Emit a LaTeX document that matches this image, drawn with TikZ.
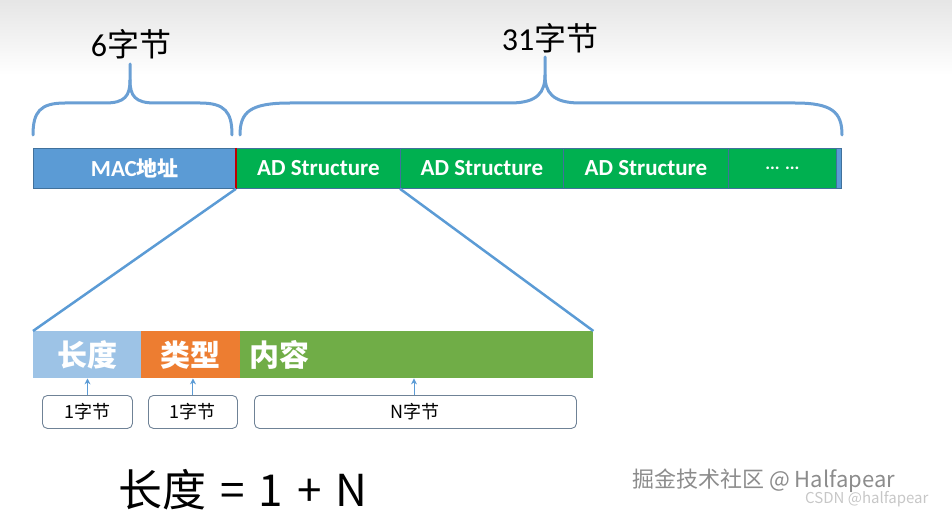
\documentclass[tikz,border=0pt]{standalone}
\usepackage{fontspec}
\setmainfont{Noto Sans CJK SC}
\newfontfamily\lat{Carlito}
\newfontfamily\cjk{Noto Sans CJK SC}
\usetikzlibrary{arrows.meta}
\definecolor{macblue}{HTML}{5B9BD5}
\definecolor{adgreen}{HTML}{00B050}
\definecolor{barborder}{HTML}{41719C}
\definecolor{lenblue}{HTML}{9DC3E6}
\definecolor{typeorange}{HTML}{ED7D31}
\definecolor{contgreen}{HTML}{70AD47}
\definecolor{bracecol}{HTML}{6A9FD4}
\definecolor{boxedge}{HTML}{6F8296}
\tikzset{
  topbar/.style={draw=barborder, line width=0.8pt, minimum height=40, anchor=north west, inner sep=0pt, text=white, font=\lat\bfseries\fontsize{23}{25}\selectfont},
  lowbar/.style={draw=none, minimum height=47, anchor=north west, inner sep=0pt, text=white, font=\bfseries\fontsize{30}{32}\selectfont},
  sizebox/.style={draw=boxedge, line width=0.9pt, rounded corners=5pt, minimum height=33, anchor=north west, inner sep=0pt, font=\fontsize{18}{20}\selectfont},
  brace/.style={draw=bracecol, line width=3pt, line cap=round},
  zoomline/.style={draw=macblue, line width=2.5pt},
  uparrow/.style={draw=macblue, line width=1pt, -{Stealth[length=6pt,width=6pt]}},
  bracelabel/.style={font=\fontsize{32}{34}\selectfont, inner sep=0pt}
}
\begin{document}
\begin{tikzpicture}[x=1pt,y=-1pt]
\useasboundingbox (0,0) rectangle (952,513);
\shade[top color=black!10, bottom color=white] (0,0) rectangle (952,75);
% braces
\draw[brace] (33,135) .. controls (33,112) and (40,103) .. (65,103) -- (105,103) .. controls (125,103) and (130,96) .. (130,80) -- (130,64);
\draw[brace] (232,135) .. controls (232,112) and (225,103) .. (200,103) -- (155,103) .. controls (135,103) and (130,96) .. (130,80);
\draw[brace] (240,135) .. controls (240,112) and (250,103) .. (290,103) -- (510,103) .. controls (538,103) and (545,92) .. (545,75) -- (545,57);
\draw[brace] (842,135) .. controls (842,112) and (832,103) .. (795,103) -- (580,103) .. controls (552,103) and (545,92) .. (545,75);
\node[bracelabel] (six) at (131,44) {{\lat 6}字节};
\node[bracelabel] (thirtyone) at (550,38) {{\lat 31}字节};
% top bar
\node[topbar, fill=macblue, minimum width=203] (mac) at (33,148) {MAC{\cjk\bfseries\fontsize{21}{23}\selectfont 地址}};
\node[topbar, fill=adgreen, minimum width=164] (ad1) at (236,148) {AD Structure};
\node[topbar, fill=adgreen, minimum width=163] (ad2) at (400,148) {AD Structure};
\node[topbar, fill=adgreen, minimum width=165] (ad3) at (563,148) {AD Structure};
\node[topbar, fill=adgreen, minimum width=108] (ad4) at (728,148) {\fontsize{18}{20}\selectfont ... ...};
\node[topbar, fill=macblue, minimum width=5] (tail) at (836,148) {};
\draw[red!75!black, line width=1.5pt] (ad1.north west) -- (ad1.south west);
% bottom bar
\node[lowbar, fill=lenblue, minimum width=108] (len) at (33,331) {长度};
\node[lowbar, fill=typeorange, minimum width=99] (type) at (141,331) {类型};
\node[lowbar, fill=contgreen, minimum width=353, text width=335, align=left] (cont) at (240,331) {内容};
% zoom lines
\draw[zoomline] (ad1.south west) -- (len.north west);
\draw[zoomline] (ad2.south west) -- (cont.north east);
% size boxes
\node[sizebox, minimum width=90] (s1) at (42,395) {1字节};
\node[sizebox, minimum width=89] (s2) at (148,395) {1字节};
\node[sizebox, minimum width=322] (s3) at (254,395) {N字节};
\coordinate (a1) at (s1.north);
\coordinate (a2) at (s2.north);
\coordinate (a3) at (414,395);
\draw[uparrow] (a1) -- (a1 |- len.south);
\draw[uparrow] (a2) -- (a2 |- type.south);
\draw[uparrow] (a3) -- (a3 |- cont.south);
% formula
\node[font=\fontsize{44}{48}\selectfont, anchor=west, inner sep=0pt] (formula) at (118,490) {长度\hspace{14pt}=\hspace{14pt}1\hspace{14pt}+\hspace{14pt}N};
% watermarks
\node[font=\fontsize{22}{24}\selectfont, text=black!45, anchor=west, inner sep=0pt] (wm1) at (632,481) {掘金技术社区 @ Halfapear};
\node[font=\fontsize{15}{17}\selectfont, text=black!22, anchor=west, inner sep=0pt] (wm2) at (805,499) {CSDN @halfapear};
\end{tikzpicture}
\end{document}
